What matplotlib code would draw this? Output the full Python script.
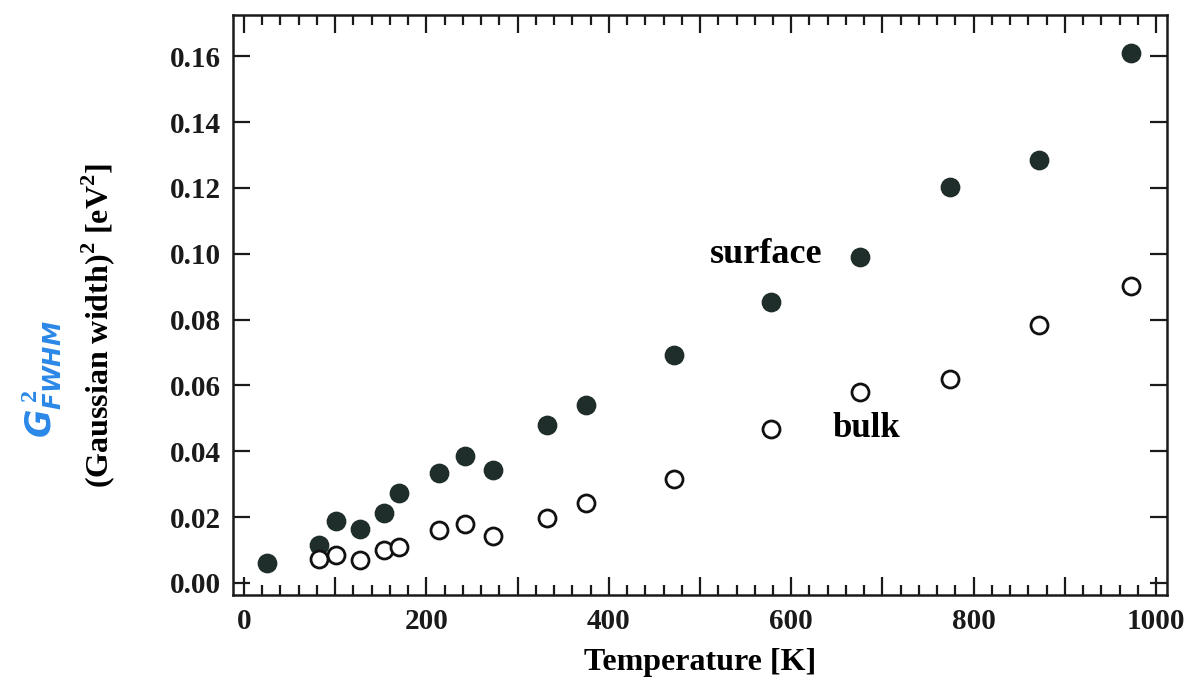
import matplotlib.pyplot as plt
from matplotlib.ticker import MultipleLocator, FuncFormatter

# temperatures [K]
temp_surface = [25, 82, 101, 127, 153, 170, 214, 242, 273, 332, 375, 471, 578, 675, 774, 872, 972]
temp_bulk = [82, 101, 127, 153, 170, 214, 242, 273, 332, 375, 471, 578, 675, 774, 872, 972]

# (Gaussian width)^2 [eV^2]
width_surface = [0.0061, 0.0116, 0.0188, 0.0165, 0.0213, 0.0274, 0.0333, 0.0386, 0.0344,
                 0.0478, 0.0540, 0.0692, 0.0854, 0.0990, 0.1204, 0.1284, 0.1610]
width_bulk = [0.0073, 0.0086, 0.0070, 0.0099, 0.0108, 0.0160, 0.0180, 0.0142, 0.0198,
              0.0244, 0.0315, 0.0468, 0.0580, 0.0618, 0.0783, 0.0901]

plt.rcParams['font.family'] = ['Liberation Serif', 'DejaVu Serif']
plt.rcParams['font.weight'] = 'bold'
plt.rcParams['mathtext.fontset'] = 'custom'
plt.rcParams['mathtext.rm'] = 'Liberation Serif:bold'
plt.rcParams['mathtext.bf'] = 'Liberation Serif:bold'

fig = plt.figure(figsize=(11.9, 6.89), dpi=100)
ax = fig.add_axes([0.1958, 0.1364, 0.7849, 0.8418])

ax.scatter(temp_surface, width_surface, s=175, color='#1f2e2a', zorder=3)
ax.scatter(temp_bulk, width_bulk, s=150, facecolors='white', edgecolors='#111111',
           linewidths=2.0, zorder=3)

ax.text(572, 0.0998, 'surface', fontsize=26, fontweight='bold', ha='center', va='center')
ax.text(682, 0.0468, 'bulk', fontsize=25, fontweight='bold', ha='center', va='center')

ax.set_xlim(-12, 1012)
ax.set_ylim(-0.0037, 0.1725)

ax.xaxis.set_major_locator(MultipleLocator(100))
ax.xaxis.set_minor_locator(MultipleLocator(20))
ax.xaxis.set_major_formatter(FuncFormatter(lambda v, p: '%d' % v if round(v) % 200 == 0 else ''))
ax.yaxis.set_major_locator(MultipleLocator(0.02))
ax.yaxis.set_major_formatter(FuncFormatter(lambda v, p: '%.2f' % v))

ax.tick_params(axis='both', which='both', direction='in', top=True, right=True,
               labelsize=21, width=1.6, colors='#1a1a1a')
ax.tick_params(axis='x', which='major', length=13, pad=9)
ax.tick_params(axis='x', which='minor', length=7)
ax.tick_params(axis='y', which='major', length=12, pad=9)
for lab in ax.get_xticklabels() + ax.get_yticklabels():
    lab.set_fontweight('bold')

for sp in ax.spines.values():
    sp.set_linewidth(1.8)
    sp.set_color('#1a1a1a')

ax.set_xlabel('Temperature [K]', fontsize=23, fontweight='bold', labelpad=10)
ax.set_ylabel(r'(Gaussian width)$^{\mathbf{2}}$ [eV$^{\mathbf{2}}$]', fontsize=23, fontweight='bold')
ax.yaxis.set_label_coords(-0.124, 0.464)

# handwritten note next to the y label
fig.text(0.035, 0.45, r'$\mathit{G}^{\,2}_{FWHM}$', color='#2a88e8', fontsize=25,
         rotation=90, ha='center', va='center', family='DejaVu Sans')

fig.savefig('out.png', dpi=100)
